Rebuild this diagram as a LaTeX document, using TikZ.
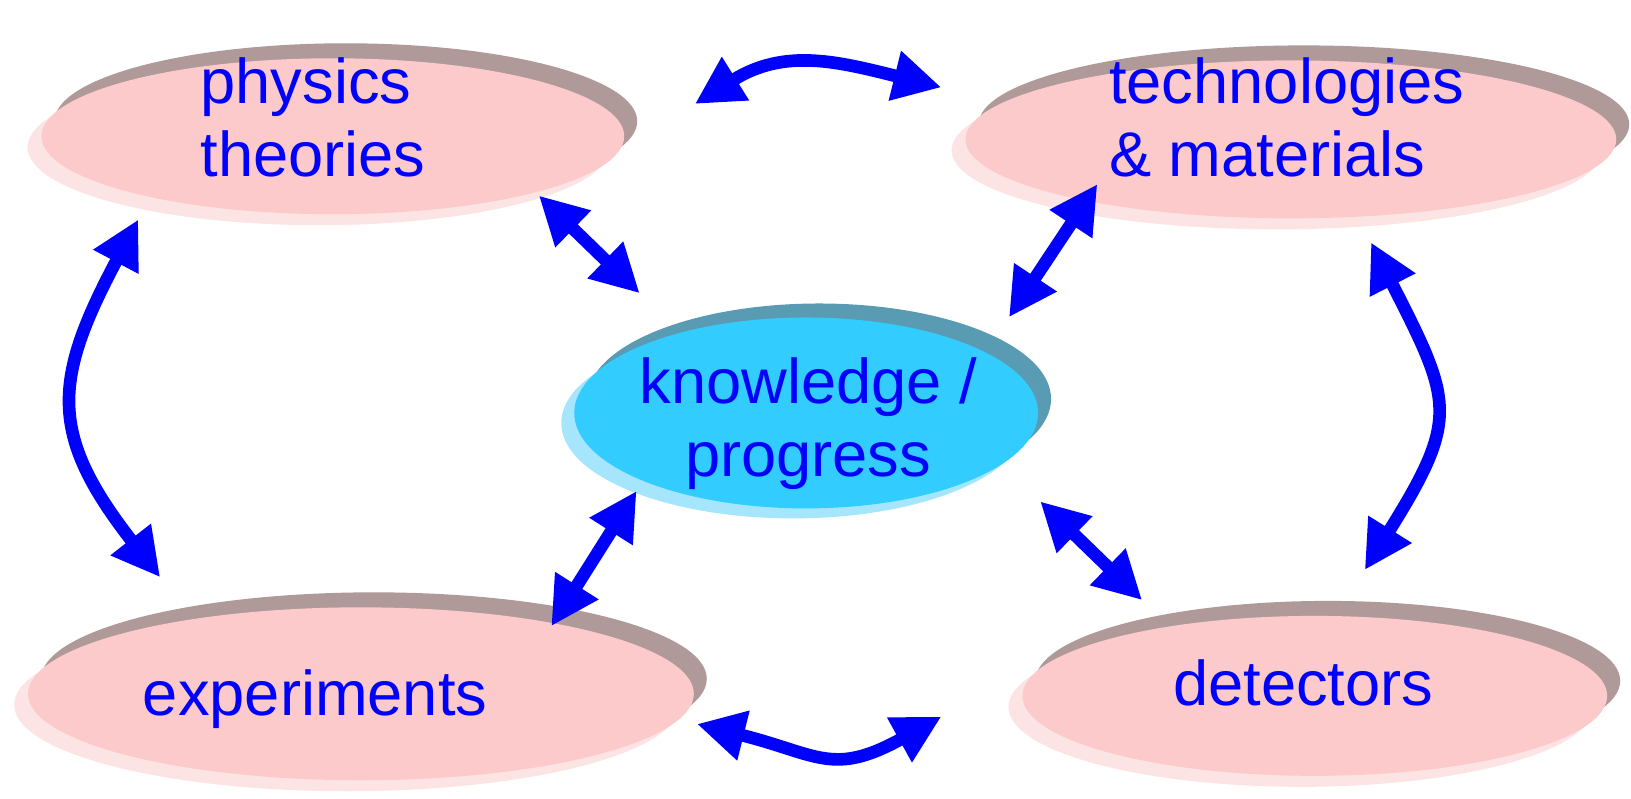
\documentclass[tikz,border=0pt]{standalone}
\usepackage{fontspec}
\setmainfont{Liberation Sans}
\usetikzlibrary{shapes.geometric,shadows,arrows.meta}
\definecolor{pinkfill}{HTML}{FCCACA}
\definecolor{pinkdark}{HTML}{B09999}
\definecolor{pinklight}{HTML}{FDE4E4}
\definecolor{cyanfill}{HTML}{33CCFF}
\definecolor{cyandark}{HTML}{5A9BB4}
\definecolor{cyanlight}{HTML}{A6E6FC}
\tikzstyle{blob}=[ellipse, inner sep=0pt, fill=pinkfill,
	general shadow={fill=pinkdark, shadow xshift=.13cm, shadow yshift=.15cm},
	general shadow={fill=pinklight, shadow xshift=-.14cm, shadow yshift=-.11cm}]
\tikzstyle{core}=[ellipse, inner sep=0pt, fill=cyanfill,
	general shadow={fill=cyandark, shadow xshift=.13cm, shadow yshift=.14cm},
	general shadow={fill=cyanlight, shadow xshift=-.13cm, shadow yshift=-.1cm}]
\tikzstyle{txt}=[text=blue, inner sep=0pt, font=\fontsize{18}{20.7}\selectfont]
\tikzstyle{arr}=[draw=blue, line width=3.6pt, <->]

\begin{document}
\begin{tikzpicture}[x=0.010402cm, y=0.010402cm, >={Triangle[length=4.8mm,width=4.8mm]}]
		%\draw[help lines] (0,0) grid[step=100] (1568,768);
		\useasboundingbox (0,0) rectangle (1568,768);
		
		\node[blob, minimum width=5.83cm, minimum height=1.56cm] (phys) at (320,637) {};
		\node[blob, minimum width=6.51cm, minimum height=1.58cm] (tech) at (1241,634) {};
		\node[core, minimum width=4.64cm, minimum height=1.91cm] (know) at (775,371) {};
		\node[blob, minimum width=6.66cm, minimum height=1.73cm] (expt) at (347,101) {};
		\node[blob, minimum width=5.85cm, minimum height=1.60cm] (det) at (1264,99) {};
		
		\node[txt, align=left] (physT) at (301,655) {physics\\theories};
		\node[txt, align=left] (techT) at (1237,655) {technologies\\\& materials};
		\node[txt, align=center] (knowT) at (777,361) {knowledge /\\progress};
		\node[txt] (exptT) at (303,96) {experiments};
		\node[txt] (detT) at (1253,111) {detectors};
		
		%arrow ends
		\coordinate (pt1) at (668,668); \coordinate (pt2) at (905,684);
		\coordinate (pk1) at (518,580); \coordinate (pk2) at (615,486);
		\coordinate (tk1) at (1055,591); \coordinate (tk2) at (970,463);
		\coordinate (ke1) at (612,296); \coordinate (ke2) at (530,166);
		\coordinate (kd1) at (1000,286); \coordinate (kd2) at (1098,191);
		\coordinate (pe1) at (133,557); \coordinate (pe2) at (154,213);
		\coordinate (td1) at (1318,535); \coordinate (td2) at (1312,220);
		\coordinate (ed1) at (670,72); \coordinate (ed2) at (905,79);
		
		\draw[arr] (pt1) to[out=32,in=166,looseness=1.1] (pt2);
		\draw[arr] (ed1) to[out=-14,in=-151,looseness=1.3] (ed2);
		\draw[arr] (pe1) to[out=-118,in=128,looseness=1.3] (pe2);
		\draw[arr] (td1) to[out=-63,in=58,looseness=1.4] (td2);
		\draw[arr] (pk1) -- (pk2);
		\draw[arr] (tk1) -- (tk2);
		\draw[arr] (ke1) -- (ke2);
		\draw[arr] (kd1) -- (kd2);
		\end{tikzpicture}
\end{document}
